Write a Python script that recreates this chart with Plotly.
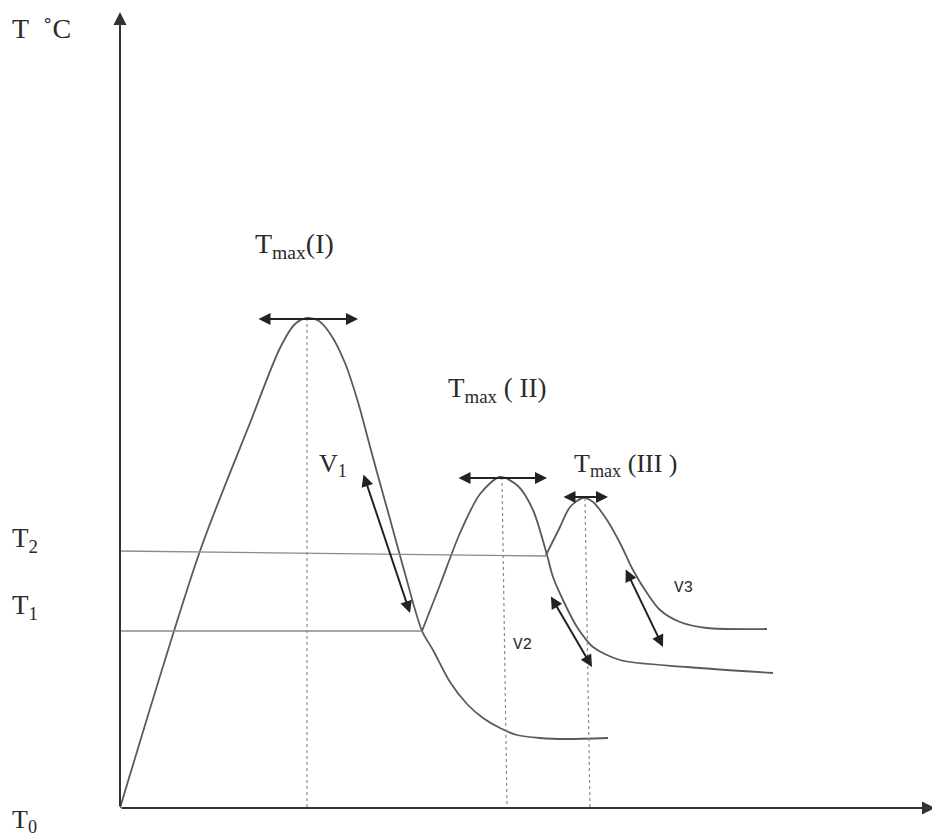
import plotly.graph_objects as go

# Heating/cooling cycle schematic: time (t) on x, temperature (T) on y
curve1_t = [0, 80, 130, 160, 175, 187, 199, 211, 225, 238, 248, 258, 270, 284, 302,
            313, 330, 347, 363, 380, 397, 420, 447, 488]
curve1_T = [0, 257, 385, 460, 484, 490, 487, 473, 445, 406, 369, 332, 289, 238, 177,
            158, 126, 104, 90, 80, 73, 70, 69, 70]

curve2_t = [302, 320, 340, 360, 380, 398, 413, 427, 433, 443, 457, 473, 500, 567, 653]
curve2_T = [177, 223, 275, 314, 331, 322, 298, 253, 231, 208, 181, 161, 148, 141, 135]

curve3_t = [426, 440, 450, 463, 473, 487, 500, 513, 527, 540, 560, 587, 647]
curve3_T = [253, 281, 301, 310, 306, 288, 265, 238, 215, 198, 186, 180, 179]

# Reference temperature levels
t2_line_t = [0, 426]
t2_line_T = [257, 252]
t1_line_t = [0, 302]
t1_line_T = [177, 177]

# Drop lines from each peak down to the time axis
peak_drop_t = [[187, 187], [382, 387], [465, 470]]
peak_drop_T = [[490, 0], [331, 0], [310, 0]]

# Double-headed markers: (t_start, T_start, t_end, T_end)
peak_spans = [(137, 489, 238, 489), (337, 330, 427, 330), (442, 311, 488, 311)]
rate_arrows = [(243, 335, 290, 195), (430, 213, 472, 141), (505, 240, 543, 161)]

serif = "Liberation Serif"
mono = "Liberation Mono"
# Labels placed on the data axes: (text, t, T, family, size)
curve_labels = [
    ("T<sub>max</sub>(I)", 174, 563, serif, 28),
    ("T<sub>max</sub> ( II)", 377, 418, serif, 27),
    ("T<sub>max</sub> (III )", 506, 343, serif, 26),
    ("V<sub>1</sub>", 213, 343, serif, 26),
    ("V2", 402, 163, mono, 16),
    ("V3", 563, 220, mono, 16),
]
# Labels in the left margin, positioned in paper fractions: (text, x, y, size)
margin_labels = [
    ("T\u00a0\u00a0˚C", -0.136, 0.965, 28),
    ("T<sub>2</sub>", -0.136, 0.332, 27),
    ("T<sub>1</sub>", -0.136, 0.249, 27),
    ("T<sub>0</sub>", -0.136, -0.016, 26),
]

curve_color = "#5a5a5a"
fig = go.Figure()

for t, T in [(curve1_t, curve1_T), (curve2_t, curve2_T), (curve3_t, curve3_T)]:
    fig.add_trace(go.Scatter(x=t, y=T, mode="lines",
                             line=dict(color=curve_color, width=1.8, shape="spline", smoothing=0.8),
                             hoverinfo="skip"))

for t, T in [(t2_line_t, t2_line_T), (t1_line_t, t1_line_T)]:
    fig.add_trace(go.Scatter(x=t, y=T, mode="lines",
                             line=dict(color="#8a8a8a", width=1.3), hoverinfo="skip"))

for t, T in zip(peak_drop_t, peak_drop_T):
    fig.add_trace(go.Scatter(x=t, y=T, mode="lines",
                             line=dict(color="#8a8a8a", width=1.2, dash="dot"), hoverinfo="skip"))

annotations = []

# Axes drawn as arrows from the origin
annotations.append(dict(x=0, y=796, ax=0, ay=0, xref="x", yref="y", axref="x", ayref="y",
                        showarrow=True, arrowhead=2, arrowsize=1.3, arrowwidth=2,
                        arrowcolor="#333333", text=""))
annotations.append(dict(x=815, y=0, ax=0, ay=0, xref="x", yref="y", axref="x", ayref="y",
                        showarrow=True, arrowhead=2, arrowsize=1.3, arrowwidth=2,
                        arrowcolor="#333333", text=""))

for (t0, T0, t1, T1) in peak_spans + rate_arrows:
    annotations.append(dict(x=t1, y=T1, ax=t0, ay=T0, xref="x", yref="y", axref="x", ayref="y",
                            showarrow=True, arrowhead=2, startarrowhead=2, arrowside="end+start",
                            arrowsize=1.2, startarrowsize=1.2, arrowwidth=2,
                            arrowcolor="#222222", text=""))

for text, t, T, fam, size in curve_labels:
    annotations.append(dict(x=t, y=T, xref="x", yref="y", text=text, showarrow=False,
                            xanchor="center", yanchor="middle",
                            font=dict(family=fam, size=size, color="#2a2a2a")))

for text, px, py, size in margin_labels:
    annotations.append(dict(x=px, y=py, xref="paper", yref="paper", text=text, showarrow=False,
                            xanchor="left", yanchor="middle",
                            font=dict(family=serif, size=size, color="#2a2a2a")))

fig.update_layout(
    width=932, height=840,
    margin=dict(l=120, r=0, t=0, b=32),
    paper_bgcolor="white", plot_bgcolor="white",
    showlegend=False,
    xaxis=dict(range=[0, 812], visible=False, fixedrange=True),
    yaxis=dict(range=[0, 808], visible=False, fixedrange=True),
    annotations=annotations,
)

fig.write_html("out.html", config={"displayModeBar": False})
